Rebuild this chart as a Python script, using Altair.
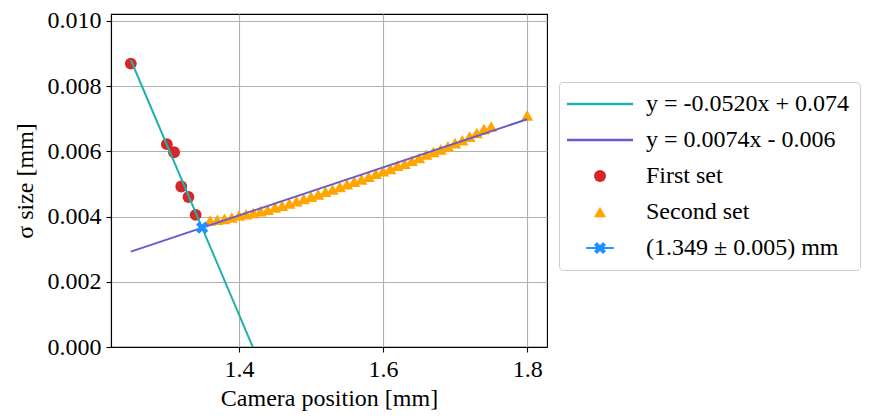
import altair as alt
import pandas as pd

# ---------------- data ----------------
series_labels = [
    "y = -0.0520x + 0.074",
    "y = 0.0074x - 0.006",
    "First set",
    "Second set",
    "(1.349 ± 0.005) mm",
]
series_colors = ["#20B2AA", "#6A5ACD", "#D62728", "#FFA500", "#1E90FF"]

first_x = [1.25, 1.30, 1.31, 1.32, 1.33, 1.34]
first_y = [0.00869, 0.00622, 0.00597, 0.00492, 0.00460, 0.00405]

second_x = [1.36, 1.37, 1.38, 1.39, 1.40, 1.41, 1.42, 1.43, 1.44, 1.45,
            1.46, 1.47, 1.48, 1.49, 1.50, 1.51, 1.52, 1.53, 1.54, 1.55,
            1.56, 1.57, 1.58, 1.59, 1.60, 1.61, 1.62, 1.63, 1.64, 1.65,
            1.66, 1.67, 1.68, 1.69, 1.70, 1.71, 1.72, 1.73, 1.74, 1.75,
            1.80]
second_y = [0.00388, 0.00390, 0.00393, 0.00397, 0.00403, 0.00407, 0.00411, 0.00416, 0.00421, 0.00428,
            0.00433, 0.00440, 0.00447, 0.00454, 0.00461, 0.00468, 0.00476, 0.00483, 0.00491, 0.00499,
            0.00507, 0.00514, 0.00522, 0.00531, 0.00539, 0.00546, 0.00556, 0.00562, 0.00571, 0.00580,
            0.00590, 0.00598, 0.00606, 0.00615, 0.00625, 0.00634, 0.00645, 0.00656, 0.00668, 0.00676,
            0.00710]

fit1_x = [1.25, 1.80]
fit1_y = [0.0088, -0.0198]
fit2_x = [1.25, 1.80]
fit2_y = [0.002925, 0.006984]

waist_x = [1.349]
waist_xerr = [0.005]
waist_y = [0.00366]

x_ticks = [1.4, 1.6, 1.8]
y_ticks = [0.000, 0.002, 0.004, 0.006, 0.008, 0.010]
x_domain = [1.2225, 1.8275]
y_domain = [0.0, 0.01021]

# ---------------- shapes ----------------
LINE_PATH = "M-5.5,-0.2L5.5,-0.2L5.5,0.2L-5.5,0.2Z"
X_PATH = ("M-1,-0.5L-0.5,-1L0,-0.5L0.5,-1L1,-0.5L0.5,0"
          "L1,0.5L0.5,1L0,0.5L-0.5,1L-1,0.5L-0.5,0Z")
XBAR_PATH = "M-2.3,-0.17L2.3,-0.17L2.3,0.17L-2.3,0.17Z" + X_PATH
series_shapes = [LINE_PATH, LINE_PATH, "circle", "triangle-up", XBAR_PATH]

FONT = "Liberation Serif, DejaVu Serif, Times New Roman, serif"
FS = 24

df_first = pd.DataFrame({"x": first_x, "y": first_y, "series": series_labels[2]})
df_second = pd.DataFrame({"x": second_x, "y": second_y, "series": series_labels[3]})
df_fit1 = pd.DataFrame({"x": fit1_x, "y": fit1_y})
df_fit2 = pd.DataFrame({"x": fit2_x, "y": fit2_y})
df_waist = pd.DataFrame({"x": waist_x, "xerr": waist_xerr, "y": waist_y, "series": series_labels[4]})

xs = alt.Scale(domain=x_domain, nice=False, zero=False)
ys = alt.Scale(domain=y_domain, nice=False, zero=False)

x_enc = alt.X("x:Q", scale=xs,
              axis=alt.Axis(values=x_ticks, format=".1f", title="Camera position [mm]"))
y_enc = alt.Y("y:Q", scale=ys,
              axis=alt.Axis(values=y_ticks, format=".3f", title="σ size [mm]"))

legend = alt.Legend(
    title=None,
    orient="none",
    legendX=448,
    legendY=68,
    padding=10,
    strokeColor="#cccccc",
    fillColor="white",
    cornerRadius=4,
    labelFont=FONT,
    labelFontSize=FS,
    labelColor="black",
    symbolOffset=19,
    labelOffset=34,
    rowPadding=12,
    symbolSize=144,
    symbolStrokeWidth=0,
    labelLimit=400,
)

color_enc = alt.Color("series:N",
                      scale=alt.Scale(domain=series_labels, range=series_colors),
                      legend=legend)
shape_enc = alt.Shape("series:N",
                      scale=alt.Scale(domain=series_labels, range=series_shapes),
                      legend=legend)

red = alt.Chart(df_first).mark_point(filled=True, size=140, opacity=1, clip=True).encode(
    x=x_enc, y=y_enc, color=color_enc, shape=shape_enc)

orange = alt.Chart(df_second).mark_point(filled=True, size=150, opacity=1, clip=True).encode(
    x=x_enc, y=y_enc, color=color_enc, shape=shape_enc)

line1 = alt.Chart(df_fit1).mark_line(color=series_colors[0], strokeWidth=2, clip=True).encode(
    x=x_enc, y=y_enc)
line2 = alt.Chart(df_fit2).mark_line(color=series_colors[1], strokeWidth=2, clip=True).encode(
    x=x_enc, y=y_enc)

err = alt.Chart(df_waist).transform_calculate(
    lo="datum.x - datum.xerr", hi="datum.x + datum.xerr"
).mark_rule(color=series_colors[4], strokeWidth=2).encode(
    x=alt.X("lo:Q", scale=xs), x2="hi:Q", y=alt.Y("y:Q", scale=ys))

blue = alt.Chart(df_waist).mark_point(filled=True, size=150, opacity=1, shape=X_PATH).encode(
    x=x_enc, y=y_enc, color=color_enc)

chart = alt.layer(red, orange, line1, line2, err, blue).properties(
    width=436,
    height=333,
    padding={"left": 103, "top": 6, "right": 327, "bottom": 68},
    autosize=alt.AutoSizeParams(type="none"),
).configure_view(
    stroke="black", strokeWidth=1.1
).configure_axis(
    labelFont=FONT, titleFont=FONT, labelFontSize=FS, titleFontSize=FS,
    labelColor="black", titleColor="black", titleFontWeight="normal",
    domainColor="black", domainWidth=1.1, tickColor="black", tickWidth=1.1, tickSize=5,
    grid=True, gridColor="#b0b0b0", gridWidth=1.1, labelPadding=5,
).configure_axisX(
    titlePadding=5,
).configure_axisY(
    titlePadding=10,
)

chart.save("out.html", embed_options={"renderer": "svg", "actions": False})
